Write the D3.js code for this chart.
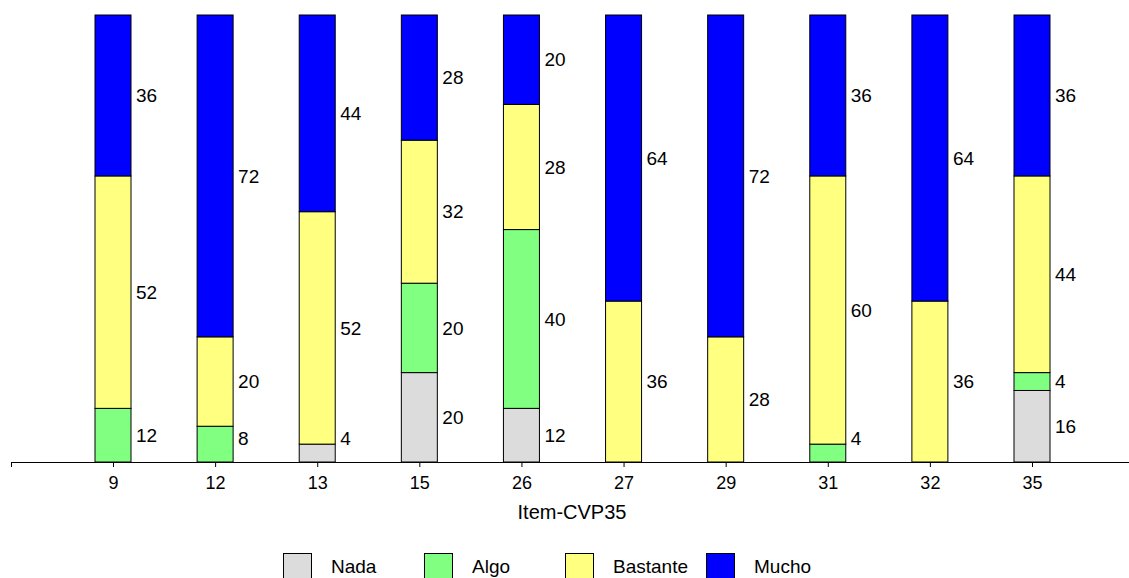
<!DOCTYPE html>
<html><head><meta charset="utf-8">
<script src="https://cdn.jsdelivr.net/npm/d3@7"></script>
<style>body{margin:0;background:#fff}svg{display:block;font-family:"Liberation Sans",Arial,sans-serif}</style>
</head><body>
<svg id="c" width="1129" height="578"></svg>
<script>
const categories = ["9","12","13","15","26","27","29","31","32","35"];
const seriesNames = ["Nada","Algo","Bastante","Mucho"];
const nada     = [0, 0, 4, 20, 12, 0, 0, 0, 0, 16];
const algo     = [12, 8, 0, 20, 40, 0, 0, 4, 0, 4];
const bastante = [52, 20, 52, 32, 28, 36, 28, 60, 36, 44];
const mucho    = [36, 72, 44, 28, 20, 64, 72, 36, 64, 36];
const colors = ["#dcdcdc","#80ff80","#ffff80","#0000ff"];

const svg = d3.select("#c");
const data = categories.map((c,i)=>({cat:c, Nada:nada[i], Algo:algo[i], Bastante:bastante[i], Mucho:mucho[i]}));
const stack = d3.stack().keys(seriesNames)(data);

const x = d3.scalePoint().domain(categories).range([113, 1032]);
const y = d3.scaleLinear().domain([0,100]).range([462, 15]);
const bw = 36;
const color = d3.scaleOrdinal().domain(seriesNames).range(colors);

const g = svg.append("g");
stack.forEach(layer=>{
  layer.forEach(d=>{
    const v = d[1]-d[0];
    if (v<=0) return;
    g.append("rect")
      .attr("x", x(d.data.cat)-bw/2).attr("width", bw)
      .attr("y", y(d[1])).attr("height", y(d[0])-y(d[1]))
      .attr("fill", color(layer.key)).attr("stroke","#000").attr("stroke-width",1);
  });
});
stack.forEach(layer=>{
  layer.forEach(d=>{
    const v = d[1]-d[0];
    if (v<=0) return;
    g.append("text")
      .attr("x", x(d.data.cat)+bw/2+5)
      .attr("y", Math.min(y((d[0]+d[1])/2), 438))
      .attr("dy","0.35em")
      .attr("font-size",19).attr("fill","#000")
      .text(v);
  });
});

// axis
const ax = svg.append("g").attr("transform","translate(0,462)");
ax.call(d3.axisBottom(x).tickSize(5).tickPadding(9).tickSizeOuter(0));
ax.select(".domain").remove();
ax.append("line").attr("x1",11).attr("x2",1129).attr("y1",0.5).attr("y2",0.5).attr("stroke","#000");
ax.append("line").attr("x1",11.5).attr("x2",11.5).attr("y1",0).attr("y2",5).attr("stroke","#000");
ax.selectAll(".tick text").attr("font-size",18).attr("fill","#000").attr("font-family","Liberation Sans, Arial, sans-serif");
ax.selectAll(".tick line").attr("stroke","#000");

svg.append("text").attr("x",572).attr("y",519).attr("text-anchor","middle")
  .attr("font-size",20).text("Item-CVP35");

// legend
const legX = [283, 424, 565, 706];
const lg = svg.append("g");
seriesNames.forEach((s,i)=>{
  lg.append("rect").attr("x",legX[i]+0.5).attr("y",553.5).attr("width",28).attr("height",30)
    .attr("fill",colors[i]).attr("stroke","#000");
  lg.append("text").attr("x",legX[i]+48).attr("y",573).attr("font-size",19).text(s);
});
</script>
</body></html>
